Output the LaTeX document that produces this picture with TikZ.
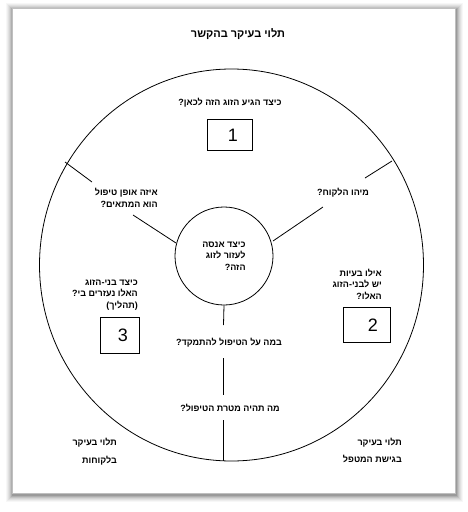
\documentclass[tikz,border=0pt]{standalone}
\usepackage{fontspec}
\setmainfont{Liberation Sans}
\newfontfamily\heb[Script=Hebrew, BoldFont={Liberation Sans Bold}]{Liberation Sans}
\TeXXeTstate=1
\begin{document}
\begin{tikzpicture}[x=1pt,y=-1pt,
  q/.style={font=\heb\bfseries\fontsize{9}{11.5}\selectfont, inner sep=0pt, align=right},
  ttl/.style={font=\heb\bfseries\fontsize{11}{13}\selectfont, inner sep=0pt},
  numbox/.style={draw, line width=0.8pt, inner sep=0pt},
  numtxt/.style={font=\fontsize{18}{18}\selectfont, inner sep=0pt},
  ln/.style={line width=0.8pt}]
\useasboundingbox (0,0) rectangle (468,512);
% page with shadow
\foreach \i/\o in {7/0.03,6/0.04,5/0.05,4/0.06,3/0.08,2/0.1,1/0.12}
  {\fill[black,opacity=\o] (12-\i+1,8-\i+2) rectangle (455+\i+1,493+\i+2);}
\fill[white] (12,8) rectangle (455,493);
\draw[gray!50, line width=0.4pt] (12,8) rectangle (455,493);

% circles
\draw[ln] (231.5,265) circle[x radius=192, y radius=196];
\node[circle, draw, line width=0.8pt, minimum size=98pt, q] (hub) at (224,256)
  {\beginR כיצד אנסה\endR\\\beginR לעזור לזוג\endR\\\beginR הזה?\endR};

% spokes
\coordinate (ul1) at (65,162);  \coordinate (ul2) at (92,182);
\coordinate (ul3) at (133,215); \coordinate (ul4) at (176,243);
\coordinate (ur1) at (392,161); \coordinate (ur2) at (365,178);
\coordinate (ur3) at (323,207); \coordinate (ur4) at (273,241);
\coordinate (b2) at (223.5,325); \coordinate (b3) at (223.5,358);
\coordinate (b4) at (223.5,395); \coordinate (b5) at (223.5,420);
\coordinate (b6) at (223.5,461);
\draw[ln] (ul1) -- (ul2); \draw[ln] (ul3) -- (ul4);
\draw[ln] (ur1) -- (ur2); \draw[ln] (ur3) -- (ur4);
\draw[ln] (hub.south) -- (b2); \draw[ln] (b3) -- (b4); \draw[ln] (b5) -- (b6);

% texts
\node[ttl] (title) at (238,34) {\beginR תלוי בעיקר בהקשר\endR};
\node[q] (q1) at (230,103) {\beginR כיצד הגיע הזוג הזה לכאן?\endR};
\node[q] (qc) at (343,193) {\beginR מיהו הלקוח?\endR};
\node[q, anchor=east] (qul) at (158,198) {\beginR איזה אופן טיפול\endR\\\beginR הוא המתאים?\endR};
\node[q, anchor=east] (qr) at (382,284) {\beginR אילו בעיות\endR\\\beginR יש לבני-הזוג\endR\\\beginR האלו?\endR};
\node[q, anchor=east] (ql) at (138,295) {\beginR כיצד בני-הזוג\endR\\\beginR האלו נעזרים בי?\endR\\\beginL)\beginR תהליך\endR(\endL};
\node[q] (qb1) at (229,343) {\beginR במה על הטיפול להתמקד?\endR};
\node[q] (qb2) at (230,408) {\beginR מה תהיה מטרת הטיפול?\endR};
\node[q, anchor=east] (bl1) at (117,443) {\beginR תלוי בעיקר\endR};
\node[q, anchor=east] (bl2) at (117,461) {\beginR בלקוחות\endR};
\node[q, anchor=east] (br1) at (402,443) {\beginR תלוי בעיקר\endR};
\node[q, anchor=east] (br2) at (402,459) {\beginR בגישת המטפל\endR};

% number boxes
\node[numbox, minimum width=45pt, minimum height=31pt] (box1) at (229.5,134.5) {};
\node[numtxt] (n1) at (233,135) {1};
\node[numbox, minimum width=47pt, minimum height=35pt] (box2) at (366.5,324.5) {};
\node[numtxt] (n2) at (373,325) {2};
\node[numbox, minimum width=39pt, minimum height=36pt] (box3) at (119.5,335) {};
\node[numtxt] (n3) at (123,335) {3};
\end{tikzpicture}
\end{document}
